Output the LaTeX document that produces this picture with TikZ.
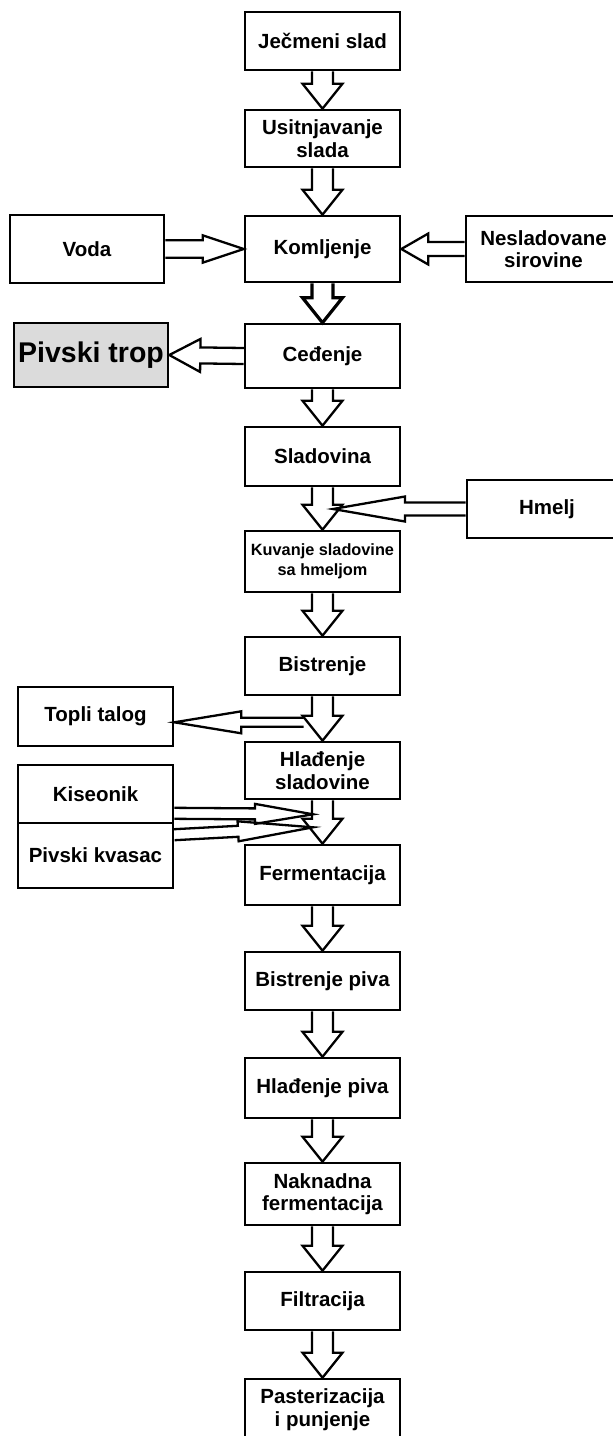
\documentclass[tikz,border=0pt]{standalone}
\usepackage{fontspec}
\setmainfont{Liberation Sans}
\usetikzlibrary{calc}

% hollow block arrow: [style] from, to, shaft half, head half, head length
\newcommand{\blockarrow}[6][]{%
  \path ($(#3)!#6!(#2)$) coordinate (bh);
  \draw[blockar,#1] ($(#2)!#4!90:(#3)$) -- ($(bh)!#4!90:(#3)$) -- ($(bh)!#5!90:(#3)$) -- (#3)
    -- ($(bh)!#5!-90:(#3)$) -- ($(bh)!#4!-90:(#3)$) -- ($(#2)!#4!-90:(#3)$);
}

\begin{document}
\begin{tikzpicture}[x=1pt,y=-1pt]
	\tikzset{box/.style={draw, line width=2.6pt, minimum width=155pt, minimum height=58pt, inner sep=0pt, align=center, font=\bfseries\fontsize{20.5}{22.5}\selectfont}}
	\tikzset{blockar/.style={draw=black, line width=2.3pt, line join=miter}}
	\useasboundingbox (0,0) rectangle (613,1436);
	\clip (0,0) rectangle (613,1436);
	\fill[white] (0,0) rectangle (613,1436);
	% main column
	\node[box] at (322.5, 41.0) (jecmen) {Ječmeni slad};
	\node[box, minimum height=57pt] at (322.5, 138.5) (usitnj) {Usitnjavanje\\slada};
	\node[box, minimum height=66pt] at (322.5, 249.0) (komlj) {Komljenje};
	\node[box, minimum height=64pt] at (322.5, 356.0) (cedenje) {Ceđenje};
	\node[box, minimum height=59pt] at (322.5, 456.5) (sladov) {Sladovina};
	\node[box, minimum height=61pt, font=\bfseries\fontsize{16.3}{20}\selectfont] at (322.5, 561.5) (kuvanje) {Kuvanje sladovine\\sa hmeljom};
	\node[box] at (322.5, 666.0) (bistr) {Bistrenje};
	\node[box, minimum height=57pt] at (322.5, 770.5) (hladsl) {Hlađenje\\sladovine};
	\node[box, minimum height=60pt] at (322.5, 875.0) (ferm) {Fermentacija};
	\node[box] at (322.5, 981.0) (bistrp) {Bistrenje piva};
	\node[box, minimum height=60pt] at (322.5, 1088.0) (hladp) {Hlađenje piva};
	\node[box, minimum height=62pt] at (322.5, 1194.0) (nakn) {Naknadna\\fermentacija};
	\node[box] at (322.5, 1301.0) (filtr) {Filtracija};
	\node[box, minimum height=61pt] at (322.5, 1409.5) (past) {Pasterizacija\\i punjenje};
	% side boxes
	\node[box, minimum height=68pt, minimum width=154pt] at (87.0, 249.0) (voda) {Voda};
	\node[box, minimum height=66pt] at (543.5, 249.0) (nesl) {Nesladovane\\sirovine};
	\node[box, minimum height=64pt, minimum width=154pt, fill=gray!28, font=\bfseries\fontsize{28.5}{30}\selectfont] at (91.0, 355.0) (trop) {Pivski trop};
	\node[box, minimum width=160pt] at (547.0, 509.0) (hmelj) {Hmelj};
	\node[box, minimum height=59pt] at (95.5, 716.5) (topli) {Topli talog};
	\node[box] at (95.5, 794.0) (kiseon) {Kiseonik};
	\node[box, minimum height=65pt] at (95.5, 855.5) (kvasac) {Pivski kvasac};
	% free ends on the main flow
	\coordinate (hopsin) at ($(sladov.south)+(10.5,21)$);
	\coordinate (hopstip) at (hopsin |- hmelj.west);
	\coordinate (trubout) at ($(bistr.south)+(-19,26)$);
	\coordinate (trubtip) at (topli.east |- trubout);
	\coordinate (oxin) at ($(hladsl.south)+(-9.5,14)$);
	\coordinate (oxout) at ($(kiseon.south east)+(0,-11)$);
	\coordinate (yeastin) at ($(hladsl.south)+(-9.5,27)$);
	\coordinate (yeastout) at ($(kvasac.north east)+(0,13)$);
	% down arrows
	\blockarrow{jecmen.south}{usitnj.north}{10.5pt}{20pt}{25pt}
	\blockarrow{usitnj.south}{komlj.north}{10.5pt}{20pt}{25pt}
	\blockarrow[line width=3.2pt]{komlj.south}{cedenje.north}{10.5pt}{20pt}{25pt}
	\blockarrow{cedenje.south}{sladov.north}{10.5pt}{20pt}{25pt}
	\blockarrow{sladov.south}{kuvanje.north}{10.5pt}{20pt}{25pt}
	\blockarrow{kuvanje.south}{bistr.north}{10.5pt}{20pt}{25pt}
	\blockarrow{bistr.south}{hladsl.north}{10.5pt}{20pt}{25pt}
	\blockarrow{hladsl.south}{ferm.north}{10.5pt}{20pt}{25pt}
	\blockarrow{ferm.south}{bistrp.north}{10.5pt}{20pt}{25pt}
	\blockarrow{bistrp.south}{hladp.north}{10.5pt}{20pt}{25pt}
	\blockarrow{hladp.south}{nakn.north}{10.5pt}{20pt}{25pt}
	\blockarrow{nakn.south}{filtr.north}{10.5pt}{20pt}{25pt}
	\blockarrow{filtr.south}{past.north}{10.5pt}{20pt}{25pt}
	% side arrows
	\blockarrow{voda.east}{komlj.west}{8.8pt}{13.7pt}{41pt}
	\blockarrow{nesl.west}{komlj.east}{7pt}{15.5pt}{27pt}
	\blockarrow{cedenje.west}{trop.east}{8pt}{16.5pt}{31pt}
	\blockarrow{hmelj.west}{hopstip}{6.5pt}{12.5pt}{72pt}
	\blockarrow{trubout}{trubtip}{4.5pt}{11pt}{67pt}
	\blockarrow{oxout}{oxin}{5.5pt}{10pt}{58pt}
	\blockarrow{yeastout}{yeastin}{5.5pt}{10pt}{75pt}
\end{tikzpicture}
\end{document}
